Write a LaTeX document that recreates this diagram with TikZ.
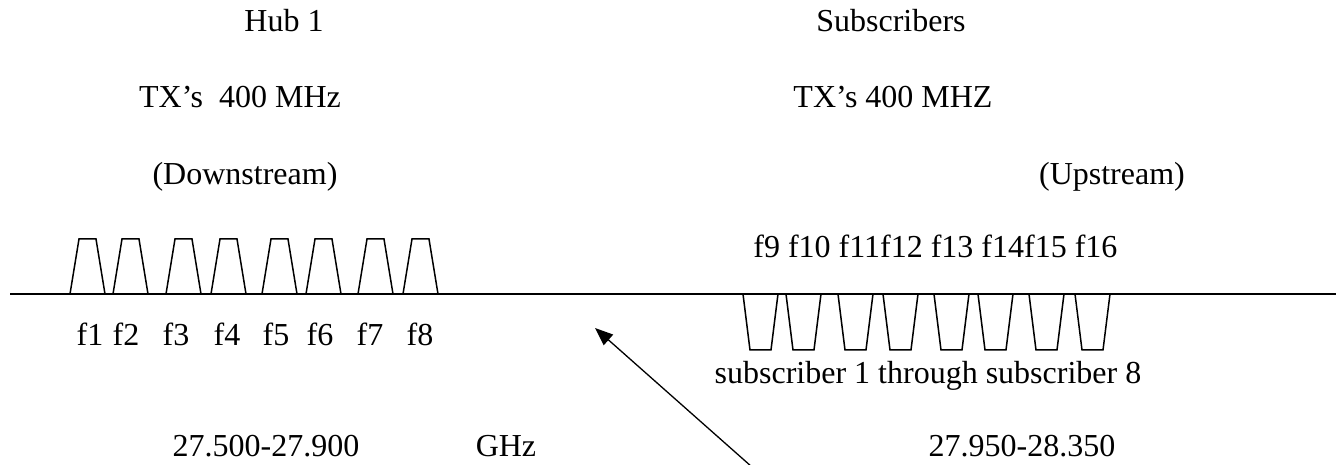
\documentclass[tikz,border=0pt]{standalone}
\usepackage{fontspec}
\setmainfont{Liberation Serif}
\usetikzlibrary{arrows.meta}
\begin{document}
\begin{tikzpicture}[x=0.5pt,y=-0.5pt]

      \tikzset{txt/.style={inner sep=0pt, anchor=base, font=\fontsize{16}{19}\selectfont},
               band/.style={line width=0.75pt, line join=miter}}
      \useasboundingbox (0,0) rectangle (1341,465);
%% Headings
      	\node[txt] (hub) at (284,32) {Hub 1};
      	\node[txt] (subs) at (891,32) {Subscribers};
      	\node[txt] (txdown) at (240,108) {TX’s~ 400 MHz};
      	\node[txt] (txup) at (893,108) {TX’s 400 MHZ};
      	\node[txt] (down) at (245,185) {(Downstream)};
      	\node[txt] (up) at (1112,185) {(Upstream)};
%% Frequency axis
      	\coordinate (axisL) at (10,294);
      	\coordinate (axisR) at (1336,294);
		\draw[band] (axisL) -- (axisR);
%Downstream channels
		\foreach \x in {70,113,166,211,262,306,358,403}
		  \draw[band] (\x,294) -- ++(9,-55) -- ++(17,0) -- ++(9,55);
		\foreach \x/\n in {90/1,126/2,176/3,227/4,276/5,320/6,370/7,420/8}
		  \node[txt] (f\n) at (\x,345) {f\n};
%Upstream channels
		\foreach \x in {743,786,838,883,934,978,1029,1075}
		  \draw[band] (\x,294) -- ++(7,56) -- ++(21,0) -- ++(7,-56);
      	\node[txt, anchor=base west] (fup) at (753,258) {f9 f10 f11f12 f13 f14f15 f16};
      	\node[txt] (sub18) at (928,383) {subscriber 1 through subscriber 8};
%% Bands
      	\node[txt] (bdown) at (266,457) {27.500-27.900};
      	\node[txt] (ghz) at (506,457) {GHz};
      	\node[txt] (bup) at (1022,457) {27.950-28.350};
%Pointer
      	\coordinate (tail) at (752,467);
      	\coordinate (tip) at (595,328);
		\draw[-{Triangle[length=9pt,width=7pt]}, line width=0.65pt] (tail) -- (tip);

\end{tikzpicture}
\end{document}
